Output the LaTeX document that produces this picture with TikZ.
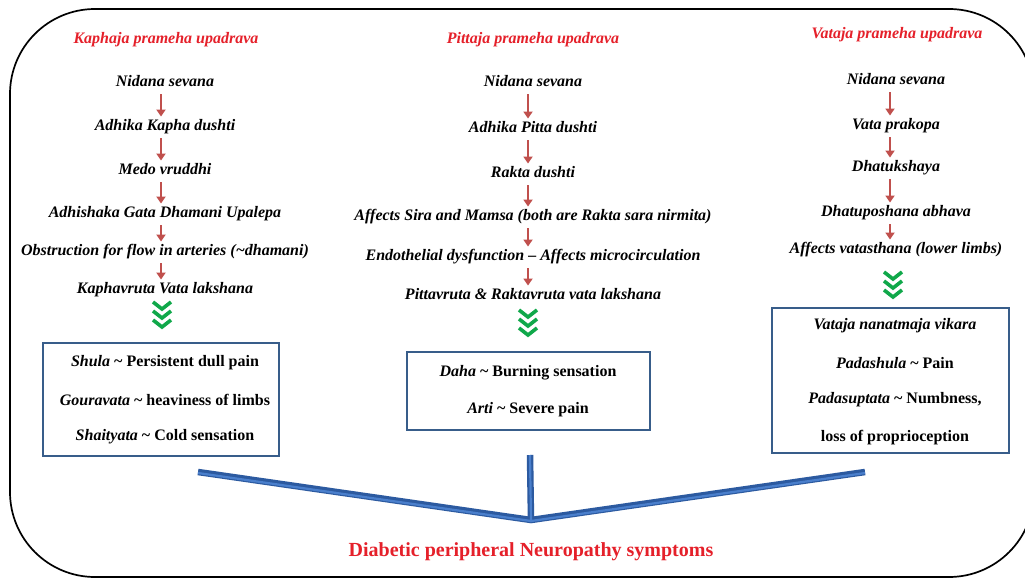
\documentclass[tikz,border=0pt]{standalone}
\usepackage{fontspec}
\setmainfont{Liberation Serif}
\usetikzlibrary{arrows.meta}
\definecolor{hdred}{HTML}{E5202A}
\definecolor{arrred}{HTML}{C0504D}
\definecolor{chevgreen}{HTML}{10A84A}
\definecolor{boxblue}{HTML}{385D8A}
\definecolor{lineblue}{HTML}{2C5AA0}
\definecolor{lineblueL}{HTML}{4A7FCC}
\newcommand{\tl}{\textasciitilde}
\begin{document}
\begin{tikzpicture}[x=1pt,y=-1pt,
  txt/.style={font=\fontsize{16}{18}\selectfont\bfseries\itshape, inner sep=1pt, text height=11pt, text depth=3.5pt},
  hd/.style={txt, text=hdred},
  bx/.style={font=\fontsize{16}{18}\selectfont\bfseries, inner sep=1pt},
  arr/.style={draw=arrred, line width=1.8pt, -{Triangle[width=9pt,length=7pt]}, shorten >=2pt, shorten <=3pt},
  boxframe/.style={draw=boxblue, line width=1.8pt, inner sep=0pt},
  chev/.style={draw=chevgreen, line width=3.6pt, miter limit=4},
  blue/.style={draw=lineblue, line width=6.5pt, line join=miter},
  bluein/.style={draw=lineblueL, line width=2.2pt, line join=miter}
]
\useasboundingbox (0,0) rectangle (1025,578);
\fill[white] (0,0) rectangle (1025,578);
\draw[line width=1.7pt, rounded corners=85pt] (10,9) rectangle (1034,577);

% ---- left column
\node[hd] (kh) at (166,40) {Kaphaja prameha upadrava};
\node[txt] (k1) at (165,83) {Nidana sevana};
\node[txt] (k2) at (165,127) {Adhika Kapha dushti};
\node[txt] (k3) at (165,171) {Medo vruddhi};
\node[txt] (k4) at (165,214) {Adhishaka Gata Dhamani Upalepa};
\node[txt] (k5) at (165,252) {Obstruction for flow in arteries (\tl dhamani)};
\node[txt] (k6) at (165,290) {Kaphavruta Vata lakshana};
\foreach \a/\b in {k1/k2,k2/k3,k3/k4,k4/k5,k5/k6}
  \draw[arr] (\a.south -| 161,0) -- (\b.north -| 161,0);
\coordinate (kc) at (162,306);
\foreach \k in {0,1,2}
  \draw[chev] ([shift={(-9,\k*9-4)}]kc) -- ([shift={(0,\k*9+3)}]kc) -- ([shift={(9,\k*9-4)}]kc);
\node[boxframe, minimum width=236pt, minimum height=113pt] (kbox) at (161,399.5) {};
\node[bx] (kb1) at (165,363) {\textit{Shula} \tl{} Persistent dull pain};
\node[bx] (kb2) at (165,400) {\textit{Gouravata} \tl{} heaviness of limbs};
\node[bx] (kb3) at (165,437) {\textit{Shaityata} \tl{} Cold sensation};

% ---- middle column
\node[hd] (ph) at (533,40) {Pittaja prameha upadrava};
\node[txt] (p1) at (533,83) {Nidana sevana};
\node[txt] (p2) at (533,129) {Adhika Pitta dushti};
\node[txt] (p3) at (533,174) {Rakta dushti};
\node[txt] (p4) at (533,217) {Affects Sira and Mamsa (both are Rakta sara nirmita)};
\node[txt] (p5) at (533,257) {Endothelial dysfunction -- Affects microcirculation};
\node[txt] (p6) at (533,296) {Pittavruta \& Raktavruta vata lakshana};
\foreach \a/\b in {p1/p2,p2/p3,p3/p4,p4/p5,p5/p6}
  \draw[arr] (\a.south -| 528,0) -- (\b.north -| 528,0);
\coordinate (pc) at (528,314);
\foreach \k in {0,1,2}
  \draw[chev] ([shift={(-9,\k*9-4)}]pc) -- ([shift={(0,\k*9+3)}]pc) -- ([shift={(9,\k*9-4)}]pc);
\node[boxframe, minimum width=243pt, minimum height=78pt] (pbox) at (528.5,391) {};
\node[bx] (pb1) at (528,373) {\textit{Daha} \tl{} Burning sensation};
\node[bx] (pb2) at (528,410) {\textit{Arti} \tl{} Severe pain};

% ---- right column
\node[hd] (vh) at (897,35) {Vataja prameha upadrava};
\node[txt] (v1) at (896,81) {Nidana sevana};
\node[txt] (v2) at (896,126) {Vata prakopa};
\node[txt] (v3) at (896,168) {Dhatukshaya};
\node[txt] (v4) at (896,213) {Dhatuposhana abhava};
\node[txt] (v5) at (896,250) {Affects vatasthana (lower limbs)};
\foreach \a/\b in {v1/v2,v2/v3,v3/v4,v4/v5}
  \draw[arr] (\a.south -| 890,0) -- (\b.north -| 890,0);
\coordinate (vc) at (893,276);
\foreach \k in {0,1,2}
  \draw[chev] ([shift={(-9,\k*9-4)}]vc) -- ([shift={(0,\k*9+3)}]vc) -- ([shift={(9,\k*9-4)}]vc);
\node[boxframe, minimum width=237pt, minimum height=145pt] (vbox) at (890.5,380.5) {};
\node[txt] (vb1) at (895,326) {Vataja nanatmaja vikara};
\node[bx] (vb2) at (895,363) {\textit{Padashula} \tl{} Pain};
\node[bx] (vb3) at (895,400) {\textit{Padasuptata} \tl{} Numbness,};
\node[bx] (vb4) at (895,438) {loss of proprioception};

% ---- bottom connector
\coordinate (bl) at (198,472);
\coordinate (bm) at (531,520);
\coordinate (br) at (865,472);
\coordinate (bt) at (530,455);
\draw[blue] (bt) -- (bm);
\draw[blue] (bl) -- (bm) -- (br);
\draw[bluein] ([yshift=-1pt]bl) -- ([yshift=-1pt]bm) -- ([yshift=-1pt]br);
\draw[bluein] (bt) -- ([yshift=-2pt]bm);
\node[font=\fontsize{20}{22}\selectfont\bfseries, text=hdred] (title) at (531,552) {Diabetic peripheral Neuropathy symptoms};
\end{tikzpicture}
\end{document}
